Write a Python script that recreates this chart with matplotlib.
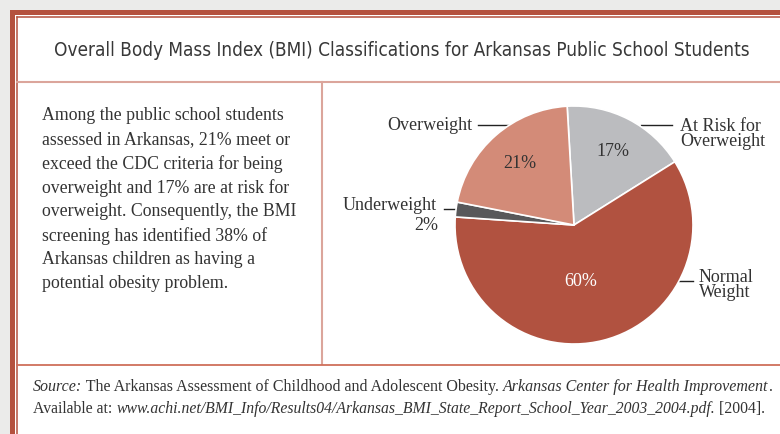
import matplotlib
matplotlib.use("Agg")
import matplotlib.pyplot as plt
from matplotlib.lines import Line2D
from matplotlib.patches import Rectangle
from matplotlib import font_manager as fm

# ---------------- data ----------------
categories = ["At Risk for\nOverweight", "Normal\nWeight", "Underweight", "Overweight"]
values = [17, 60, 2, 21]
colors = ["#bbbcbf", "#b15240", "#58585a", "#d38b78"]

title = "Overall Body Mass Index (BMI) Classifications for Arkansas Public School Students"
body_lines = [
    "Among the public school students",
    "assessed in Arkansas, 21% meet or",
    "exceed the CDC criteria for being",
    "overweight and 17% are at risk for",
    "overweight. Consequently, the BMI",
    "screening has identified 38% of",
    "Arkansas children as having a",
    "potential obesity problem.",
]
source_line1 = [("Source:", "italic"), (" The Arkansas Assessment of Childhood and Adolescent Obesity. ", "normal"),
                ("Arkansas Center for Health Improvement", "italic"), (".", "normal")]
source_line2 = [("Available at: ", "normal"),
                ("www.achi.net/BMI_Info/Results04/Arkansas_BMI_State_Report_School_Year_2003_2004.pdf.", "italic"),
                (" [2004].", "normal")]

W, H = 780, 434
DPI = 100
fig = plt.figure(figsize=(W / DPI, H / DPI), dpi=DPI)
fig.patch.set_facecolor("#ebebea")

ov = fig.add_axes([0, 0, 1, 1])
ov.set_xlim(0, W)
ov.set_ylim(H, 0)
ov.axis("off")

SERIF = ["Liberation Serif", "DejaVu Serif"]
TXT = "#333333"

def px2pt(p):
    return p * 72 / DPI

# look for a condensed sans for the title
title_fp = None
for f in fm.fontManager.ttflist:
    nm = f.name.lower()
    st = str(f.stretch).lower()
    if f.style == "normal" and str(f.weight) in ("400", "normal") and \
            ("condensed" in st or "narrow" in nm or "condensed" in nm) and "sans" in nm:
        title_fp = fm.FontProperties(fname=f.fname)
        break
if title_fp is None:
    title_fp = fm.FontProperties(family=["DejaVu Sans"])

# frame
ov.add_patch(Rectangle((10, 10), W, H, facecolor="#b4513e", edgecolor="none", zorder=0))
ov.add_patch(Rectangle((15, 15), W, H, facecolor="white", edgecolor="none", zorder=0.5))
ov.add_line(Line2D([16.8, 16.8], [16.8, H], color="#b4513e", lw=1.1, zorder=1))
ov.add_line(Line2D([16.8, W], [16.8, 16.8], color="#b4513e", lw=1.1, zorder=1))
ov.add_line(Line2D([17, W], [82, 82], color="#dba59b", lw=1.5, zorder=1))
ov.add_line(Line2D([322, 322], [82, 364], color="#dba59b", lw=1.5, zorder=1))
ov.add_line(Line2D([17, W], [364.5, 364.5], color="#cf6f5a", lw=1.3, zorder=1))

fig.canvas.draw()
renderer = fig.canvas.get_renderer()

# title, fitted to the reference width
title_fp.set_size(px2pt(21))
tt = ov.text(402, 50, title, ha="center", va="center", fontproperties=title_fp, color="#383838")
tw = tt.get_window_extent(renderer=renderer).width
target = 695.0
if tw > target:
    title_fp.set_size(px2pt(21) * target / tw)
    tt.set_fontproperties(title_fp)

# body text
for i, line in enumerate(body_lines):
    ov.text(42, 116 + i * 24, line, ha="left", va="center", fontsize=px2pt(17.8), family=SERIF, color=TXT)

# source lines (mixed styles)
for y, parts, size in [(391, source_line1, 16), (413, source_line2, 15.8)]:
    x = 33
    for s, style in parts:
        t = ov.text(x, y, s, ha="left", va="baseline", fontsize=px2pt(size), family=SERIF,
                    style=style, color=TXT)
        x += t.get_window_extent(renderer=renderer).width

# pie
cx, cy, R = 574, 225, 119
S = 300
pa = fig.add_axes([(cx - S / 2) / W, (H - cy - S / 2) / H, S / W, S / H])
wedges, _ = pa.pie(values, colors=colors, startangle=93.3, counterclock=False, radius=R,
                   wedgeprops=dict(edgecolor="white", linewidth=1.2))
pa.set_xlim(-S / 2, S / 2)
pa.set_ylim(-S / 2, S / 2)
pa.set_aspect("equal")
pa.axis("off")

fs = px2pt(18)
pa.text(613 - cx, cy - 151, f"{values[0]}%", ha="center", va="center", fontsize=fs, family=SERIF, color=TXT)
pa.text(520 - cx, cy - 164, f"{values[3]}%", ha="center", va="center", fontsize=fs, family=SERIF, color=TXT)
pa.text(581 - cx, cy - 281, f"{values[1]}%", ha="center", va="center", fontsize=fs, family=SERIF, color="white")

ov.text(472, 125, categories[3], ha="right", va="center", fontsize=fs, family=SERIF, color=TXT, zorder=5)
ov.add_line(Line2D([478, 510], [125, 125], color="#222222", lw=1.0, zorder=5))
ov.text(680, 134, categories[0], ha="left", va="center", fontsize=fs, family=SERIF, color=TXT,
        linespacing=0.92, zorder=5)
ov.add_line(Line2D([641, 672], [124.5, 124.5], color="#222222", lw=1.0, zorder=5))
ov.text(437, 205, categories[2], ha="right", va="center", fontsize=fs, family=SERIF, color=TXT, zorder=5)
ov.add_line(Line2D([444, 473], [208.5, 208.5], color="#222222", lw=1.0, zorder=5))
ov.text(438, 225, f"{values[2]}%", ha="right", va="center", fontsize=fs, family=SERIF, color=TXT, zorder=5)
ov.text(699, 285, categories[1], ha="left", va="center", fontsize=fs, family=SERIF, color=TXT,
        linespacing=0.92, zorder=5)
ov.add_line(Line2D([661, 693], [281, 281], color="#222222", lw=1.0, zorder=5))

fig.savefig("out.png", dpi=DPI, facecolor=fig.get_facecolor())
